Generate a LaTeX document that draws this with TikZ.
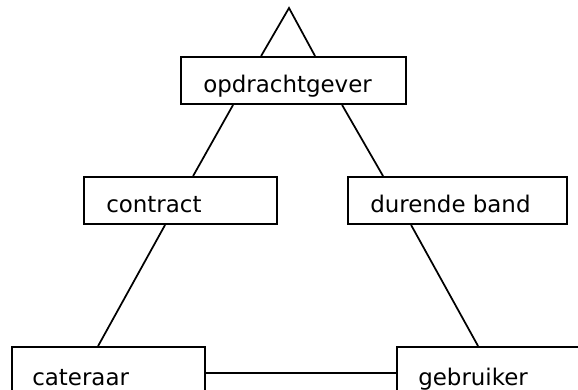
\documentclass[tikz,border=0pt]{standalone}
\usepackage{fontspec}
\setmainfont{DejaVu Sans}
\usetikzlibrary{calc}
\begin{document}
\begin{tikzpicture}[x=0.75pt,y=-0.75pt,
  box/.style={draw=black, line width=1.4pt, rectangle, minimum height=35.25pt, inner sep=0pt},
  lbl/.style={anchor=base west, inner sep=0pt, font=\fontsize{17.2}{20}\selectfont},
  conn/.style={draw=black, line width=1.3pt}]
\useasboundingbox (0,0) rectangle (578,389);
\clip (0,0) rectangle (578,389);
\fill[white] (0,0) rectangle (578,389);
% boxes
\node[box, minimum width=168.75pt] (op) at (293.5,80.5) {};
\node[box, minimum width=144.75pt] (contract) at (180.5,200.5) {};
\node[box, minimum width=164.25pt] (durende) at (457.5,200.5) {};
\node[box, minimum width=144.75pt] (cateraar) at (108.5,370.5) {};
\node[box, minimum width=150pt] (gebruiker) at (497,370.5) {};
% labels
\node[lbl] (tOp) at (203,92) {opdrachtgever};
\node[lbl] (tContract) at (106,212) {contract};
\node[lbl] (tDurende) at (370,212) {durende band};
\node[lbl] (tCateraar) at (32,385) {cateraar};
\node[lbl] (tGebruiker) at (418,385) {gebruiker};
% connectors
\coordinate (apex) at (289,8);
\draw[conn] ($(op.north west)+(81,0)$) -- (apex) -- ($(op.north west)+(135,0)$);
\draw[conn] ($(op.south west)+(53,0)$) -- ($(contract.north west)+(110,0)$);
\draw[conn] ($(op.south west)+(162,0)$) -- ($(durende.north west)+(36,0)$);
\draw[conn] ($(contract.south west)+(82,0)$) -- ($(cateraar.north west)+(87,0)$);
\draw[conn] ($(durende.south west)+(64,0)$) -- ($(gebruiker.north west)+(82,0)$);
\draw[conn] ($(cateraar.east)+(0,2.5)$) -- ($(gebruiker.west)+(0,2.5)$);
\end{tikzpicture}
\end{document}
